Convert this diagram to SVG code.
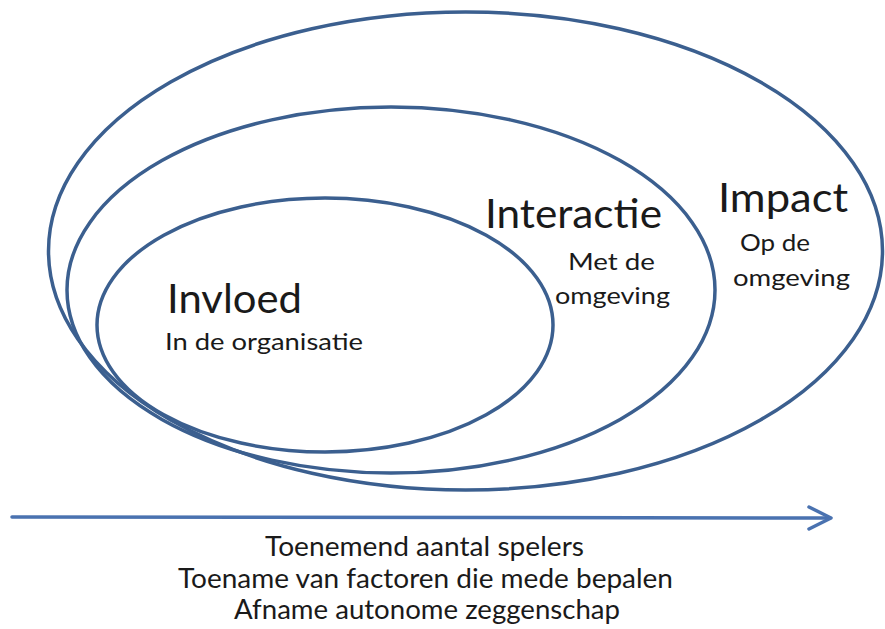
<svg xmlns="http://www.w3.org/2000/svg" width="885" height="629" viewBox="0 0 885 629">
<defs>
<style>
.ring{fill:none;stroke:#3b5f8f;stroke-width:3.5}
.big{font-family:Lato,"Liberation Sans",sans-serif;font-size:40px;fill:#1a1a1a}
.sub{font-family:Lato,"Liberation Sans",sans-serif;font-size:24px;fill:#1a1a1a}
.bot{font-family:Lato,"Liberation Sans",sans-serif;font-size:26px;fill:#1a1a1a}
.arrow{fill:none;stroke:#4a72b0;stroke-width:3.5;stroke-linecap:round;stroke-linejoin:round}
</style>
</defs>
<rect width="885" height="629" fill="#ffffff"/>
<g id="impact">
<ellipse class="ring" cx="465.5" cy="251" rx="417" ry="239"/>
<text class="big" x="718" y="212" textLength="130" lengthAdjust="spacingAndGlyphs">Impact</text>
<text class="sub" x="740" y="251" textLength="70" lengthAdjust="spacingAndGlyphs">Op de</text>
<text class="sub" x="733" y="286" textLength="117" lengthAdjust="spacingAndGlyphs">omgeving</text>
</g>
<g id="interactie">
<ellipse class="ring" cx="391" cy="290" rx="324" ry="183"/>
<text class="big" x="485" y="228" textLength="177" lengthAdjust="spacingAndGlyphs">Interactie</text>
<text class="sub" x="568" y="270" textLength="87" lengthAdjust="spacingAndGlyphs">Met de</text>
<text class="sub" x="555" y="304" textLength="115" lengthAdjust="spacingAndGlyphs">omgeving</text>
</g>
<g id="invloed">
<ellipse class="ring" cx="325" cy="325" rx="228" ry="127"/>
<text class="big" x="167" y="313" textLength="135" lengthAdjust="spacingAndGlyphs">Invloed</text>
<text class="sub" x="165" y="350" textLength="198" lengthAdjust="spacingAndGlyphs">In de organisatie</text>
</g>
<g id="connectors">
<path class="arrow" d="M12 517 L830 518"/>
<path class="arrow" d="M809 507 L831 518 L809 529"/>
</g>
<g id="caption">
<text class="bot" x="265" y="556" textLength="319" lengthAdjust="spacingAndGlyphs">Toenemend aantal spelers</text>
<text class="bot" x="178" y="588" textLength="495" lengthAdjust="spacingAndGlyphs">Toename van factoren die mede bepalen</text>
<text class="bot" x="234" y="619" textLength="386" lengthAdjust="spacingAndGlyphs">Afname autonome zeggenschap</text>
</g>
</svg>
